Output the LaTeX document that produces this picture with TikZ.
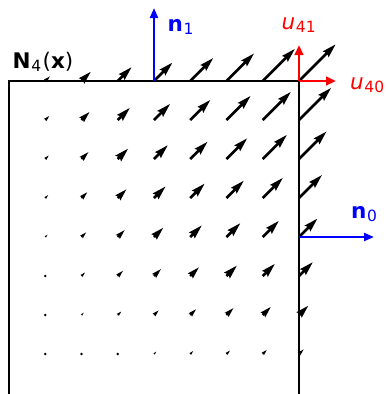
\documentclass[tikz,border=0pt]{standalone}
\usepackage{fontspec}
\setmainfont{DejaVu Sans}
\usetikzlibrary{arrows.meta}
\definecolor{mblue}{RGB}{0,0,255}
\definecolor{mred}{RGB}{255,0,0}
\newcommand{\subtxt}[1]{\hspace{0.6pt}\raisebox{-3.5pt}{\fontsize{15.5}{16}\selectfont #1}}
\begin{document}
\begin{tikzpicture}[x=1pt,y=-1pt,
  lbl/.style={anchor=base west, inner sep=0pt, font=\fontsize{21.5}{24}\selectfont},
  boxline/.style={line width=1.8pt},
  normalarrow/.style={mblue, line width=2.2pt, -{Triangle[length=10pt,width=8pt]}},
  dofarrow/.style={mred, line width=2.5pt, -{Triangle[length=10pt,width=8.5pt]}}]
\useasboundingbox (0,0) rectangle (386,394);
\coordinate (TL) at (9,81);
\coordinate (TR) at (299,81);
\coordinate (BL) at (9,394);
\coordinate (BR) at (299,394);
\draw[boxline] (BL) -- (TL) -- (TR) -- (BR);
\foreach \i in {1,...,8}{\foreach \j in {1,...,8}{
  \pgfmathsetmacro\px{9+36.25*\i}
  \pgfmathsetmacro\py{393-39*\j}
  \pgfmathsetmacro\L{51.6*\i*\j/64/2.8}
  \pgfmathsetmacro\s{min(1,\L/5)}
  \pgfmathsetmacro\Lx{max(\L,5)}
  \pgfmathtruncatemacro\isdot{\L<1 ? 1 : 0}
  \ifnum\isdot=1
    \fill (\px,\py) circle[radius=1.3pt];
  \else
    \begin{scope}[shift={(\px,\py)}, rotate=45, scale=2.8*\s]
      \fill (0,0.5) -- (\Lx-4.5,0.5) -- (\Lx-5,1.5) -- (\Lx,0) -- (\Lx-5,-1.5) -- (\Lx-4.5,-0.5) -- (0,-0.5) -- cycle;
    \end{scope}
  \fi
}}
\coordinate (n1base) at (154,81);
\coordinate (n1tip) at (154,8);
\coordinate (n0base) at (299,237);
\coordinate (n0tip) at (374,237);
\coordinate (u41tip) at (299,45);
\coordinate (u40tip) at (336,81);
\draw[normalarrow] (n1base) -- (n1tip);
\draw[normalarrow] (n0base) -- (n0tip);
\draw[dofarrow] (TR) -- (u41tip);
\draw[dofarrow] (TR) -- (u40tip);
\node[lbl] (Nlabel) at (12.5,68) {\textbf{N}\subtxt{4}\hspace{1.5pt}(\textbf{x})};
\node[lbl, text=mblue] (n1label) at (167.5,31) {\textbf{n}\subtxt{1}};
\node[lbl, text=mred] (u41label) at (281.5,29) {\textit{u}\subtxt{41}};
\node[lbl, text=mred] (u40label) at (350,89) {\textit{u}\subtxt{40}};
\node[lbl, text=mblue] (n0label) at (351,218) {\textbf{n}\subtxt{0}};
\end{tikzpicture}
\end{document}
